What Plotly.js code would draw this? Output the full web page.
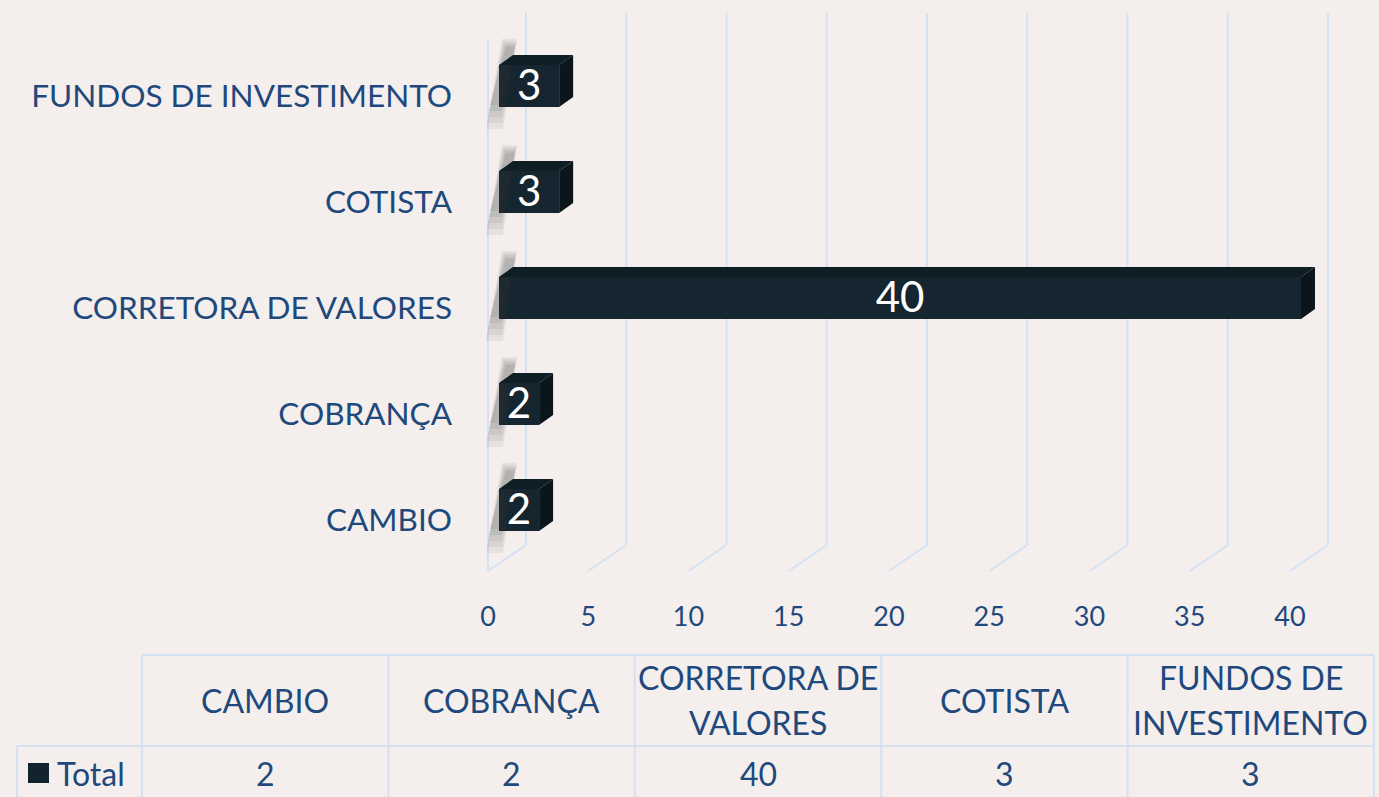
<!DOCTYPE html>
<html>
<head>
<meta charset="utf-8">
<script src="https://cdn.plot.ly/plotly-3.0.1.min.js"></script>
<style>html,body{margin:0;padding:0;background:#F4EFED;}#chart{width:1379px;height:797px;}</style>
</head>
<body>
<div id="chart"></div>
<script>
// ---- data ----
const categories = ['CAMBIO', 'COBRANÇA', 'CORRETORA DE VALORES', 'COTISTA', 'FUNDOS DE INVESTIMENTO'];
const values = [2, 2, 40, 3, 3];
const tableHeaders = ['CAMBIO', 'COBRANÇA', 'CORRETORA DE<br>VALORES', 'COTISTA', 'FUNDOS DE<br>INVESTIMENTO'];
const seriesName = 'Total';
const xTicks = [0, 5, 10, 15, 20, 25, 30, 35, 40];

// ---- style / geometry ----
const W = 1379, H = 797;
const FONT = 'Lato, "Open Sans", sans-serif';
const TXT = '#1F497D';
const GRID = '#D4E1F3';
const BG = '#F4EFED';
const PXX = 20.05, PXY = 106;           // px per data unit
const ux = p => p / PXX, uy = p => p / PXY;
const barBase = ux(11), barShift = uy(10), barHalf = uy(21);
const dX = ux(14), dY = uy(10);
const wallX = ux(38), wallY = uy(26);
const floorY = -uy(51), topY = uy(507), leftTop = uy(480);

const ypos = categories.map((c, i) => i);

const shapes = [];
// grid lines (back wall + floor diagonals + left wall edge) in data coordinates, below traces
const seg = (x0, y0, x1, y1) => shapes.push({type: 'line', xref: 'x', yref: 'y', x0, y0, x1, y1, line: {color: GRID, width: 2}, layer: 'below'});
xTicks.forEach(t => {
  seg(t + wallX, topY, t + wallX, floorY + wallY);
  seg(t + wallX, floorY + wallY, t, floorY);
});
seg(0, floorY, 0, leftTop);

// faces
const topX = [], topYs = [], sideX = [], sideY = [];
values.forEach((v, i) => {
  const yc = ypos[i] + barShift, yt = yc + barHalf, yb = yc - barHalf;
  const x0 = barBase, x1 = barBase + v;
  topX.push(x0, x1, x1 + dX, x0 + dX, x0, null);
  topYs.push(yt, yt, yt + dY, yt + dY, yt, null);
  sideX.push(x1, x1 + dX, x1 + dX, x1, x1, null);
  sideY.push(yb, yb + dY, yt + dY, yt, yb, null);
});

// soft shadow on the left wall (several translucent layers)
const shadowTraces = [];
for (let k = 0; k < 5; k++) {
  const sx = [], sy = [];
  const grow = 4 - k;
  values.forEach((v, i) => {
    const yc = ypos[i] + barShift, yt = yc + barHalf, yb = yc - barHalf;
    const x0 = barBase;
    const l = -9 - grow, r = 2 + grow * 0.5;
    const tOff = 18 + grow * 2, bOff = -6 - grow * 4 + k * 2;
    sx.push(x0 + ux(l), x0 + ux(r), x0 + ux(r + 14), x0 + ux(l + 16), x0 + ux(l), null);
    sy.push(yb + uy(bOff), yb + uy(bOff), yt + uy(tOff), yt + uy(tOff), yb + uy(bOff), null);
  });
  shadowTraces.push({type: 'scatter', mode: 'lines', x: sx, y: sy, fill: 'toself', fillcolor: 'rgba(50,50,50,0.075)', line: {width: 0}, hoverinfo: 'skip', showlegend: false});
}

const traces = [
  {type: 'bar', orientation: 'h', name: seriesName, x: values, y: ypos.map(p => p + barShift), base: barBase,
   width: 2 * barHalf, marker: {color: '#162630', line: {width: 0}}, showlegend: false},
  ...shadowTraces,
  {type: 'scatter', mode: 'lines', x: topX, y: topYs, fill: 'toself', fillcolor: '#0F1D25', line: {width: 0}, hoverinfo: 'skip', showlegend: false},
  {type: 'scatter', mode: 'lines', x: sideX, y: sideY, fill: 'toself', fillcolor: '#0B161C', line: {width: 0}, hoverinfo: 'skip', showlegend: false},
  {type: 'scatter', mode: 'text', x: values.map(v => barBase + v / 2), y: ypos.map(p => p + barShift - uy(3)),
   text: values.map(String), textposition: 'middle center', textfont: {family: FONT, size: 42, color: '#FFFFFF'},
   hoverinfo: 'skip', showlegend: false}
];

// ---- table ----
const px = p => p / W, py = p => (H - p) / H;
const colStart = 142, colW = 246.4, hdrTop = 655, rowTop = 746, bottom = 797, firstLeft = 17;
const line = (x0, y0, x1, y1) => shapes.push({type: 'line', xref: 'paper', yref: 'paper', x0: px(x0), y0: py(y0), x1: px(x1), y1: py(y1), line: {color: GRID, width: 2}, layer: 'below'});
const tableRight = colStart + colW * tableHeaders.length;
line(colStart, hdrTop, tableRight, hdrTop);
line(firstLeft, rowTop, tableRight, rowTop);
line(firstLeft, rowTop, firstLeft, bottom);
for (let k = 0; k <= tableHeaders.length; k++) line(colStart + colW * k, hdrTop, colStart + colW * k, bottom);
shapes.push({type: 'rect', xref: 'paper', yref: 'paper', x0: px(28), x1: px(49), y0: py(783), y1: py(763), fillcolor: '#13232E', line: {width: 0}});

const TFS = 32, LINEH = 45;
const annotations = [];
tableHeaders.forEach((h, k) => {
  const cx = colStart + colW * (k + 0.5);
  const parts = h.split('<br>');
  parts.forEach((p, j) => {
    const yy = 700 + (j - (parts.length - 1) / 2) * LINEH;
    annotations.push({xref: 'paper', yref: 'paper', x: px(cx), y: py(yy), text: p, showarrow: false, xanchor: 'center', yanchor: 'middle', font: {family: FONT, size: TFS, color: TXT}});
  });
  annotations.push({xref: 'paper', yref: 'paper', x: px(cx), y: py(773), text: String(values[k]), showarrow: false, xanchor: 'center', yanchor: 'middle', font: {family: FONT, size: TFS, color: TXT}});
});
annotations.push({xref: 'paper', yref: 'paper', x: px(55), y: py(773), text: seriesName, showarrow: false, xanchor: 'left', yanchor: 'middle', font: {family: FONT, size: TFS, color: TXT}});

// ---- axes ----
const xd0 = 455 / W, xd1 = 1360 / W;
const r0 = -(488 - 455) / PXX, r1 = r0 + (1360 - 455) / PXX;
const yBottomPx = 590;
const yr0 = -(yBottomPx - 520) / PXY, yr1 = 520 / PXY;

const layout = {
  width: W, height: H,
  margin: {l: 0, r: 0, t: 0, b: 0},
  paper_bgcolor: BG, plot_bgcolor: 'rgba(0,0,0,0)',
  showlegend: false,
  xaxis: {domain: [xd0, xd1], range: [r0, r1], tickvals: xTicks, ticktext: xTicks.map(String),
          showgrid: false, zeroline: false, showline: false, ticks: '', ticklabelstandoff: 8,
          tickfont: {family: FONT, size: 27, color: TXT}, fixedrange: true},
  yaxis: {domain: [(H - yBottomPx) / H, 1], range: [yr0, yr1], tickvals: ypos, ticktext: categories,
          showgrid: false, zeroline: false, showline: false, ticks: '', ticklabelstandoff: 2,
          tickfont: {family: FONT, size: 31.5, color: TXT}, fixedrange: true},
  shapes: shapes,
  annotations: annotations,
  font: {family: FONT, color: TXT}
};

Plotly.newPlot('chart', traces, layout, {displayModeBar: false, staticPlot: true});
</script>
</body>
</html>
